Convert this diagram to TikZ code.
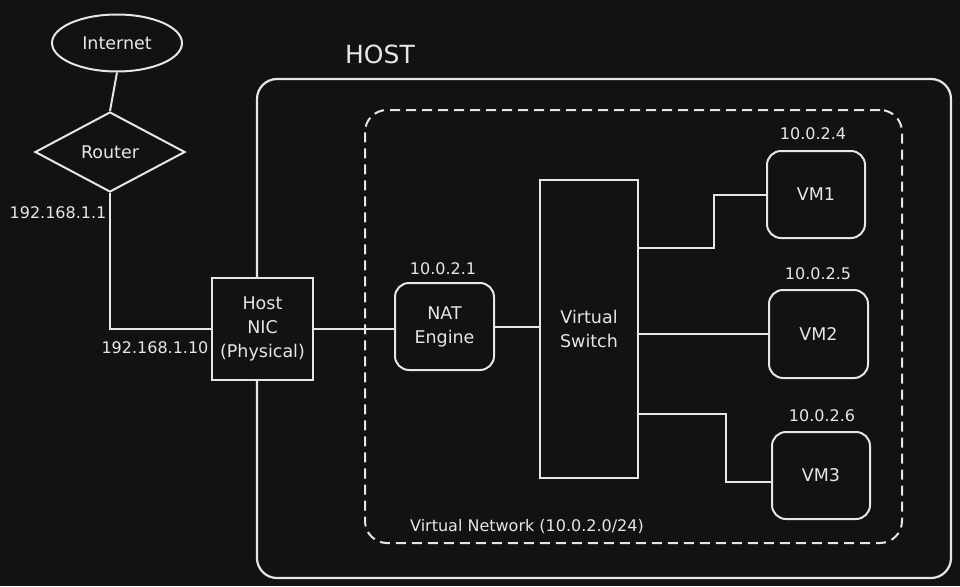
\documentclass[tikz,border=0pt]{standalone}
\usepackage{fontspec}
\setmainfont{DejaVu Sans}
\usetikzlibrary{shapes.geometric}
\definecolor{bg}{HTML}{121212}
\definecolor{ink}{HTML}{E6E6E6}
\begin{document}
\begin{tikzpicture}[x=1pt,y=-1pt,
  line width=2pt, draw=ink, text=ink,
  every node/.style={inner sep=0pt, text=ink, font=\fontsize{17.5}{24}\selectfont},
  box/.style={draw=ink, fill=bg, line width=2pt, align=center},
  roundbox/.style={box, rounded corners=14pt},
  wire/.style={draw=ink, line width=2pt},
  lbl/.style={font=\fontsize{16}{19}\selectfont}
]
\fill[bg] (0,0) rectangle (960,586);
\useasboundingbox (0,0) rectangle (960,586);

% HOST
\node[draw=ink, line width=2.2pt, rounded corners=20pt, minimum width=694pt, minimum height=499pt] (host) at (604,328.5) {};
\node[font=\fontsize{25}{28}\selectfont] (hostlbl) at (380,54) {HOST};

% Virtual network
\node[draw=ink, line width=2pt, dash pattern=on 10pt off 6pt, rounded corners=22pt, minimum width=537pt, minimum height=433pt] (vnet) at (633.5,326.5) {};
\node[lbl] (vnetlbl) at (527,526) {Virtual Network (10.0.2.0/24)};

% Internet & router
\node[ellipse, draw=ink, line width=2pt, minimum width=130pt, minimum height=57pt] (inet) at (117,43) {Internet};
\node[diamond, draw=ink, line width=2pt, minimum width=150pt, minimum height=80pt, aspect=1.9] (router) at (110,152) {Router};
\node[lbl] (ip1) at (58,213) {192.168.1.1};
\node[lbl] (ip2) at (155,348) {192.168.1.10};

% Host NIC
\node[box, minimum width=101pt, minimum height=102pt, font=\fontsize{17.5}{24}\selectfont] (nic) at (262.5,329) {Host\\NIC\\(Physical)};

% NAT
\node[roundbox, minimum width=99pt, minimum height=87pt, font=\fontsize{17.5}{24}\selectfont] (nat) at (444.5,326.5) {NAT\\Engine};
\node[lbl] (natip) at (443,269) {10.0.2.1};

% Switch
\node[box, minimum width=98pt, minimum height=298pt, font=\fontsize{17.5}{24}\selectfont] (sw) at (589,329) {Virtual\\Switch};

% VMs
\node[roundbox, minimum width=98pt, minimum height=87pt] (vm1) at (816,194.5) {VM1};
\node[lbl] (vm1ip) at (813,134) {10.0.2.4};
\node[roundbox, minimum width=99pt, minimum height=88pt] (vm2) at (818.5,334) {VM2};
\node[lbl] (vm2ip) at (818,274) {10.0.2.5};
\node[roundbox, minimum width=98pt, minimum height=87pt] (vm3) at (821,475.5) {VM3};
\node[lbl] (vm3ip) at (822,416) {10.0.2.6};

% Connectors
\draw[wire] (inet.south) -- (router.north);
\draw[wire] (router.south) |- (nic.west);
\draw[wire] (nic.east) -- (nic.east -| nat.west);
\draw[wire] (nat.east) -- (nat.east -| sw.west);
\draw[wire] ([yshift=81pt]sw.east) -- ++(75,0) |- (vm1.west);
\draw[wire] (vm2.west -| sw.east) -- (vm2.west);
\draw[wire] ([yshift=-85pt]sw.east) -- ++(87,0) |- ([yshift=-6pt]vm3.west);
\end{tikzpicture}
\end{document}
